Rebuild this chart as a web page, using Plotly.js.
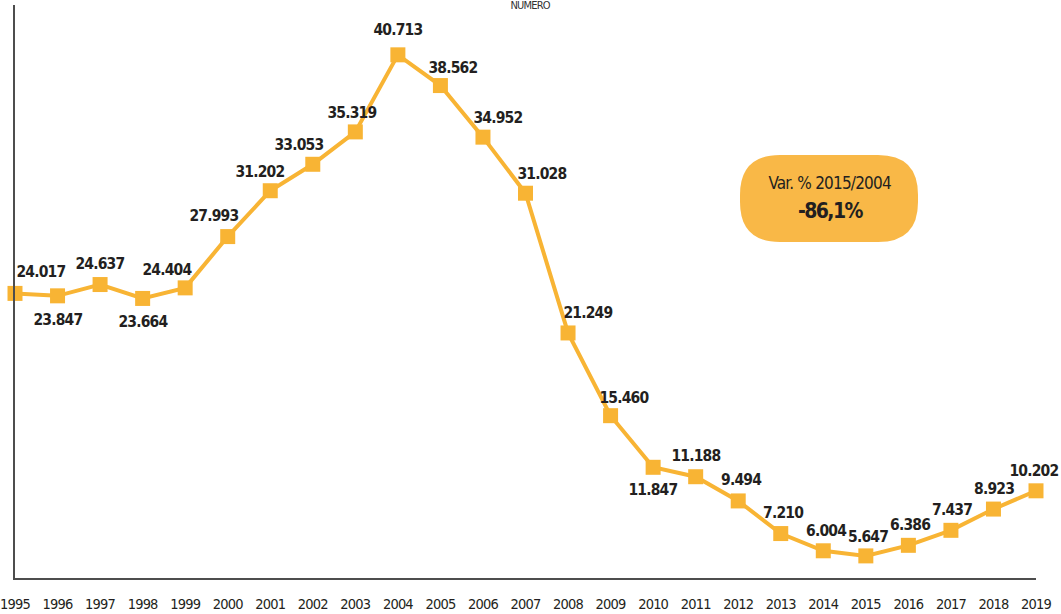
<!DOCTYPE html>
<html>
<head>
<meta charset="utf-8">
<script src="https://cdn.plot.ly/plotly-3.0.1.min.js"></script>
<style>
html,body{margin:0;padding:0;background:#fff;}
#chart{width:1061px;height:614px;}
#chart text{font-stretch:condensed !important; letter-spacing:-0.8px;}
</style>
</head>
<body>
<div id="chart"></div>
<script>
const years = [1995,1996,1997,1998,1999,2000,2001,2002,2003,2004,2005,2006,2007,2008,2009,2010,2011,2012,2013,2014,2015,2016,2017,2018,2019];
const values = [24017,23847,24637,23664,24404,27993,31202,33053,35319,40713,38562,34952,31028,21249,15460,11847,11188,9494,7210,6004,5647,6386,7437,8923,10202];
const labelShiftX = [26,0,0,0,-18,-14,-10,-14,-3,0,13,15,16,20,13,0,0,3,2,3,2,2,1,1,-2];
const labelShiftY = [21,-24,21,-24,18,21,19,19,19,25,18,19,19,20,18,-23,21,21,21,20,19,20,20,20,20];
const boxTitle = "Var. % 2015/2004";
const boxValue = "-86,1%";
const chartTitle = "NUMERO";

const FONT = "'DejaVu Sans Condensed', 'DejaVu Sans', sans-serif";
const ORANGE = "#F8B434";

// plot area pixels
const L = 15, R = 1036, T = 5, B = 578;
function px(x){ return (x - L) / (R - L); }
function py(y){ return (B - y) / (B - T); }
function roundRect(x0, y0, x1, y1, r){
  const p = (x, y) => px(x) + ',' + py(y);
  return 'M' + p(x0 + r, y0) + ' L' + p(x1 - r, y0) + ' Q' + p(x1, y0) + ' ' + p(x1, y0 + r) +
    ' L' + p(x1, y1 - r) + ' Q' + p(x1, y1) + ' ' + p(x1 - r, y1) +
    ' L' + p(x0 + r, y1) + ' Q' + p(x0, y1) + ' ' + p(x0, y1 - r) +
    ' L' + p(x0, y0 + r) + ' Q' + p(x0, y0) + ' ' + p(x0 + r, y0) + ' Z';
}

function fmt(v){ return v.toString().replace(/\B(?=(\d{3})+(?!\d))/g, '.'); }

const annotations = years.map((yr, i) => ({
  x: yr, y: values[i], xref: 'x', yref: 'y',
  text: fmt(values[i]), showarrow: false,
  xshift: labelShiftX[i], yshift: labelShiftY[i],
  font: {family: FONT, size: 15.5, color: '#231f20', weight: 'bold'},
  xanchor: 'center', yanchor: 'middle'
}));
annotations.push({
  x: px(829), y: py(183), xref: 'paper', yref: 'paper', showarrow: false,
  text: boxTitle, font: {family: FONT, size: 17, color: '#231f20'},
  xanchor: 'center', yanchor: 'middle'
});
annotations.push({
  x: px(830), y: py(211), xref: 'paper', yref: 'paper', showarrow: false,
  text: '<span style="letter-spacing:-1.6px"><b>' + boxValue + '</b></span>', font: {family: FONT, size: 21, color: '#231f20'},
  xanchor: 'center', yanchor: 'middle'
});
annotations.push({
  x: px(530), y: py(6), xref: 'paper', yref: 'paper', showarrow: false,
  text: chartTitle, font: {family: FONT, size: 11, color: '#333'},
  xanchor: 'center', yanchor: 'middle'
});

const trace = {
  x: years, y: values, type: 'scatter', mode: 'lines+markers',
  line: {color: ORANGE, width: 4},
  marker: {symbol: 'square', size: 15, color: ORANGE},
  cliponaxis: false, hoverinfo: 'skip'
};

const layout = {
  width: 1061, height: 614,
  margin: {l: L, r: 1061 - R, t: T, b: 614 - B, pad: 0},
  paper_bgcolor: '#fff', plot_bgcolor: '#fff',
  showlegend: false,
  separators: ',.',
  xaxis: {
    range: [1995, 2019], tickmode: 'array', tickvals: years, ticktext: years.map(String),
    showgrid: false, zeroline: false, showline: true, linecolor: '#4d4d4d', linewidth: 2,
    ticks: '', ticklabelstandoff: 12, ticklabeloverflow: 'allow',
    tickfont: {family: FONT, size: 14.5, color: '#231f20'}
  },
  yaxis: {
    range: [4100, 44200], showgrid: false, zeroline: false, showline: true,
    linecolor: '#4d4d4d', linewidth: 2, showticklabels: false, ticks: ''
  },
  shapes: [{
    type: 'path', xref: 'paper', yref: 'paper', layer: 'below',
    path: roundRect(740, 155, 918, 242, 40),
    fillcolor: '#F9B847', line: {width: 0}
  }],
  annotations: annotations
};

Plotly.newPlot('chart', [trace], layout, {displayModeBar: false, staticPlot: true});
</script>
</body>
</html>
